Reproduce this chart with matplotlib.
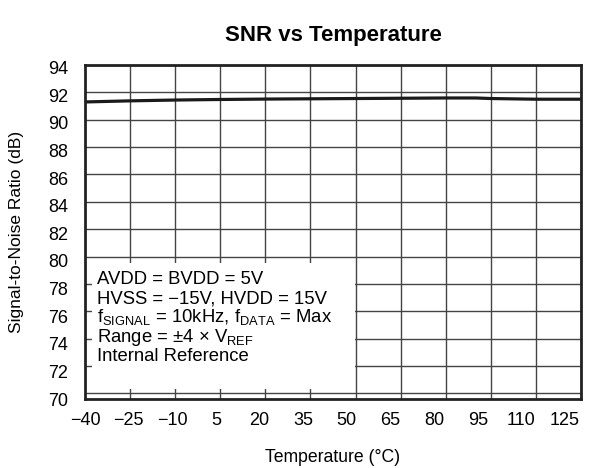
import matplotlib.pyplot as plt
from matplotlib.patches import Rectangle

plt.rcParams['font.family'] = ['Liberation Sans', 'DejaVu Sans']
plt.rcParams['mathtext.fontset'] = 'custom'
plt.rcParams['mathtext.rm'] = 'Liberation Sans'

temps = [-40, -25, -10, 5, 20, 35, 50, 65, 80, 90, 95, 110, 125]
snr = [91.3, 91.38, 91.44, 91.48, 91.51, 91.53, 91.55, 91.57, 91.59, 91.59, 91.55, 91.5, 91.5]

x_grid = list(range(-40, 126, 15))
x_labels = ['\u221240', '\u221225', '\u221210', '5', '20', '35', '50', '65', '80', '95', '110', '125']
y_grid = list(range(70, 95, 2))
y_labels = [str(v) for v in y_grid]

notes = [
    'AVDD = BVDD = 5V',
    'HVSS = \u221215V, HVDD = 15V',
    r'f$_{\mathrm{SIGNAL}}$ = 10kHz, f$_{\mathrm{DATA}}$ = Max',
    r'Range = $\pm$4 $\times$ V$_{\mathrm{REF}}$',
    'Internal Reference',
]

fig = plt.figure(figsize=(5.98, 4.68), dpi=100)
ax = fig.add_axes([0.1421, 0.1474, 0.8294, 0.7137])

ax.plot(temps, snr, color='#1a1a1a', lw=2.3, zorder=3)

ax.set_xlim(-40, 125)
ax.set_ylim(70, 94)

# grid on minor ticks, labels on major ticks (labels in the original sit a bit off the grid)
ax.set_xticks(x_grid, minor=True)
ax.set_yticks(y_grid, minor=True)
ax.set_xticks([-40 + (v + 40) * 0.968 for v in x_grid])
ax.set_xticklabels(x_labels)
ax.set_yticks([93.81 - (94 - v) * 1.0093 for v in y_grid])
ax.set_yticklabels(y_labels)
ax.tick_params(axis='both', which='both', length=0)
ax.tick_params(axis='x', which='major', labelsize=13, pad=9)
ax.tick_params(axis='y', which='major', labelsize=13, pad=12)
ax.grid(True, which='minor', color='#444444', lw=1.0)
ax.grid(False, which='major')
ax.set_axisbelow(True)
for s in ax.spines.values():
    s.set_linewidth(2)
    s.set_color('#222222')
    s.set_zorder(5)

# legend box covering the grid
ax.add_patch(Rectangle((-37.7, 70.3), 87.4, 9.2, facecolor='white', edgecolor='none', zorder=2))
for i, t in enumerate(notes):
    ax.text(-36.0, 77.98 - i * 1.40, t, fontsize=13.3, va='baseline', ha='left', zorder=4)

ax.set_title('SNR vs Temperature', fontsize=16, fontweight='bold', pad=17)
ax.set_xlabel('Temperature (\u00b0C)', fontsize=12.7, labelpad=15)
ax.set_ylabel('Signal-to-Noise Ratio (dB)', fontsize=12.5, labelpad=17)

plt.savefig('out.png', dpi=100)
